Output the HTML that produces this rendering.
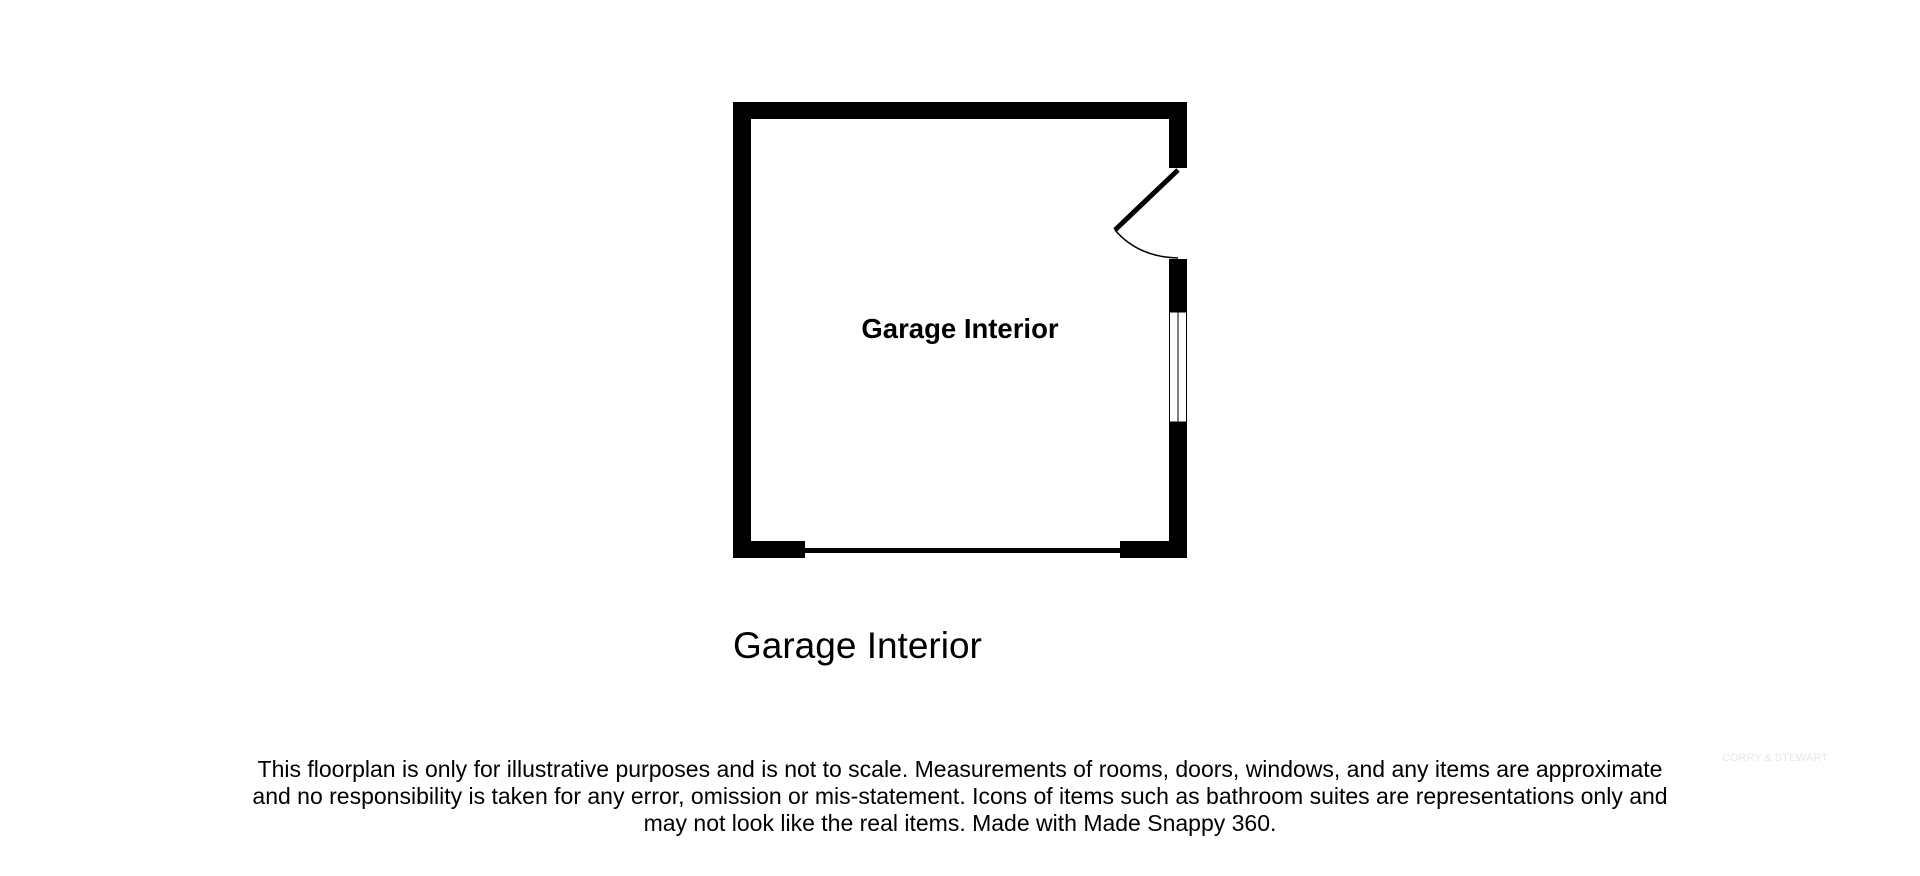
<!DOCTYPE html>
<html><head><style>
body{margin:0;width:1920px;height:876px;background:#fff;overflow:hidden;font-family:"Liberation Sans",Arial,sans-serif;position:relative}
.t{position:absolute;white-space:nowrap;color:#000}
</style></head><body>
<svg width="1920" height="876" style="position:absolute;left:0;top:0">
<rect x="733" y="102" width="454" height="17" fill="#000"/>
<rect x="733" y="102" width="18" height="456" fill="#000"/>
<rect x="733" y="541" width="72" height="17" fill="#000"/>
<rect x="1120" y="541" width="67" height="17" fill="#000"/>
<rect x="805" y="548" width="315" height="5" fill="#000"/>
<rect x="1169" y="102" width="18" height="66" fill="#000"/>
<rect x="1169" y="259" width="18" height="53" fill="#000"/>
<rect x="1169" y="422" width="18" height="136" fill="#000"/>
<rect x="1169.5" y="312" width="17" height="110" fill="#fff" stroke="#000" stroke-width="1"/>
<line x1="1178" y1="312" x2="1178" y2="422" stroke="#000" stroke-width="1"/>
<line x1="1178" y1="170" x2="1115" y2="230" stroke="#000" stroke-width="5"/>
<path d="M1115 230 Q1138 257 1178 258" fill="none" stroke="#000" stroke-width="1.5"/>
</svg>
<div class="t" style="left:0;width:1920px;text-align:center;top:313px;font-size:27.5px;font-weight:bold">Garage Interior</div>
<div class="t" style="left:733px;top:625px;font-size:37px">Garage Interior</div>
<div class="t" style="left:0;width:1920px;text-align:center;top:756px;font-size:23px;line-height:27px">This floorplan is only for illustrative purposes and is not to scale. Measurements of rooms, doors, windows, and any items are approximate<br>and no responsibility is taken for any error, omission or mis-statement. Icons of items such as bathroom suites are representations only and<br>may not look like the real items. Made with Made Snappy 360.</div>
<div class="t" style="left:1722px;top:752px;font-size:11px;color:#e4e8ec">CORRY &amp; STEWART</div>
</body></html>
